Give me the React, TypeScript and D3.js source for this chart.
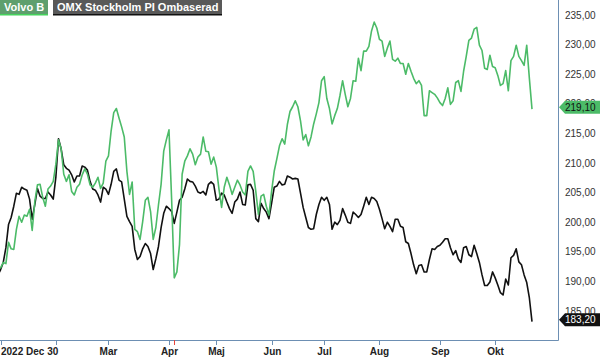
import React from "react";
import * as d3 from "d3";

// trading-day index 0 = 2022-12-30, last = 2023-10-20
const volvo = [
  192.3, 192.3, 193.2, 193.0, 196.6, 195.5, 195.4, 198.8, 201.0, 200.0,
  201.2, 201.0, 202.2, 198.6, 203.5, 206.3, 206.4, 204.2, 202.7, 205.6,
  206.1, 206.9, 209.8, 213.9, 212.4, 208.1, 206.9, 208.0, 205.2, 204.6,
  205.9, 206.4, 208.0, 209.0, 208.1, 206.3, 205.9, 206.6, 207.6, 205.7,
  206.6, 210.3, 211.2, 215.4, 218.5, 219.2, 217.6, 216.1, 214.4, 208.6,
  204.7, 206.8, 198.8, 198.4, 197.1, 200.1, 203.7, 204.2, 201.8, 197.1,
  199.1, 202.9, 206.4, 212.0, 213.9, 215.6, 203.9, 190.6, 191.6, 196.2,
  208.1, 210.3, 211.2, 212.4, 211.5, 209.7, 211.0, 211.5, 214.4, 212.0,
  211.9, 209.8, 211.0, 209.3, 205.6, 202.5, 205.9, 207.6, 206.3, 204.7,
  205.9, 207.1, 206.3, 205.1, 204.6, 208.6, 209.5, 208.6, 205.2, 201.3,
  204.4, 204.7, 202.7, 201.2, 205.2, 208.6, 210.7, 212.9, 214.1, 213.2,
  216.5, 218.7, 219.5, 220.5, 219.5, 217.1, 213.9, 214.8, 212.9, 214.4,
  216.6, 218.3, 220.2, 223.9, 224.6, 220.9, 219.2, 216.6, 218.0, 219.2,
  221.4, 223.9, 221.6, 219.5, 220.9, 223.9, 223.8, 227.7, 225.6, 228.9,
  228.9, 229.7, 232.3, 233.8, 232.8, 230.9, 230.6, 228.0, 229.4, 230.6,
  227.5, 227.2, 227.7, 226.8, 226.8, 225.0, 226.8, 225.5, 224.3, 223.4,
  223.9, 223.1, 218.0, 218.0, 222.2, 221.9, 221.6, 221.0, 220.2, 219.7,
  220.9, 222.7, 219.9, 220.5, 223.6, 223.9, 222.1, 225.5, 228.0, 230.7,
  231.1, 232.6, 232.9, 229.9, 229.0, 226.0, 225.8, 228.2, 226.3, 226.1,
  224.8, 223.1, 223.4, 225.6, 222.2, 227.3, 228.0, 229.9, 228.0, 227.3,
  226.5, 229.9, 224.3, 219.1,
];

const omx = [
  191.1, 192.0, 193.2, 195.7, 199.6, 200.8, 202.7, 204.9, 204.7, 205.9,
  205.6, 205.4, 203.9, 200.5, 203.0, 205.7, 204.4, 204.0, 204.0, 205.1,
  204.6, 203.9, 207.6, 214.1, 212.4, 209.7, 209.1, 208.8, 208.0, 206.8,
  207.8, 207.8, 209.5, 209.3, 208.8, 206.9, 205.6, 205.4, 204.6, 203.4,
  205.9, 205.6, 204.7, 206.4, 208.6, 209.0, 207.1, 206.8, 203.9, 201.0,
  200.1, 199.3, 195.4, 193.7, 194.2, 195.5, 196.4, 195.9, 194.7, 192.0,
  193.8, 195.9, 199.1, 201.5, 202.7, 202.3, 201.8, 199.8, 201.7, 203.7,
  204.2, 205.6, 207.3, 206.9, 206.8, 206.1, 205.1, 204.9, 205.2, 204.6,
  206.4, 206.8, 206.4, 203.7, 203.9, 204.9, 204.6, 203.4, 202.3, 201.5,
  203.4, 203.9, 205.1, 203.0, 202.9, 206.3, 206.4, 205.4, 200.6, 200.1,
  203.2, 202.3, 201.7, 200.6, 203.2, 205.9, 206.1, 206.9, 206.3, 206.4,
  207.8, 207.6, 207.3, 207.4, 207.3, 204.9, 202.5, 200.8, 199.1, 198.8,
  198.9, 201.3, 203.0, 204.2, 203.7, 204.2, 203.0, 198.8, 200.0, 199.6,
  200.3, 202.3, 201.2, 200.0, 199.8, 201.7, 201.3, 200.8, 201.3, 202.7,
  204.2, 203.0, 204.2, 204.0, 203.5, 202.2, 200.6, 198.9, 200.0, 199.3,
  198.4, 200.5, 200.5, 199.3, 199.1, 196.7, 196.4, 194.7, 192.8, 191.3,
  192.7, 192.8, 191.6, 191.6, 193.7, 195.5, 195.4, 195.9, 196.1, 196.6,
  197.2, 197.2, 195.7, 194.5, 195.2, 193.8, 193.2, 195.7, 195.9, 194.5,
  194.2, 196.1, 194.7, 193.2, 191.1, 189.3, 189.3, 189.9, 191.6, 190.6,
  189.4, 188.1, 187.7, 190.4, 189.4, 194.0, 194.4, 195.5, 193.3, 192.8,
  191.1, 189.8, 187.2, 183.2,
];

// month ticks as trading-day index
const tickIdx = [1, 22, 42, 65, 83, 104, 124, 145, 168, 189];
const tickLabels = ["2022 Dec 30", "", "Mar", "Apr", "Maj", "Jun", "Jul", "Aug", "Sep", "Okt"];
const dividendIdx = 67;

const seriesNames = ["Volvo B", "OMX Stockholm PI Ombaserad"];

const W = 600;
const H = 357;
const right = 558;
const bottom = 340;
const FONT = "Arial, 'Liberation Sans', sans-serif";
const GREEN = "#4cbb68";
const AXIS = "#6d8fb3";

const fmt = (v: number) => d3.format(".2f")(v).replace(".", ",");

export default function App() {
  const x = d3.scaleLinear().domain([0, volvo.length - 1]).range([-2, 532]);
  const y = d3.scaleLinear().domain([185, 235]).range([311, 15]);

  const line = d3
    .line<number>()
    .x((d, i) => x(i))
    .y((d) => y(d));

  const yTicks = y.ticks(10);
  const lastV = volvo[volvo.length - 1];
  const lastO = omx[omx.length - 1];

  const tag = (v: number, fill: string, color: string) => {
    const cy = y(v) - 2;
    const h = 13;
    const pts = [
      [right + 1, cy],
      [right + 7, cy - h / 2],
      [W, cy - h / 2],
      [W, cy + h / 2],
      [right + 7, cy + h / 2],
    ];
    return (
      <g>
        <polygon points={pts.map((p) => p.join(",")).join(" ")} fill={fill} />
        <text x={565} y={cy + 3.6} fontSize={10} fill={color} fontFamily={FONT}>
          {fmt(v)}
        </text>
      </g>
    );
  };

  return (
    <svg
      width={W}
      height={H}
      style={{ position: "absolute", left: 0, top: 0, display: "block", background: "#fff" }}
    >
      <defs>
        <clipPath id="plot">
          <rect x={0} y={0} width={right} height={bottom} />
        </clipPath>
      </defs>

      <g clipPath="url(#plot)" fill="none" strokeLinejoin="round">
        <path d={line(omx) || ""} stroke="#111" strokeWidth={1.6} />
        <path d={line(volvo) || ""} stroke={GREEN} strokeWidth={1.6} />
      </g>

      {/* frame */}
      <line x1={0} x2={right + 0.5} y1={bottom + 0.5} y2={bottom + 0.5} stroke={AXIS} />
      <line x1={right + 0.5} x2={right + 0.5} y1={0} y2={bottom + 0.5} stroke={AXIS} />

      {/* x axis */}
      {tickIdx.map((t, i) => {
        const tx = Math.round(x(t)) + 0.5;
        return (
          <g key={t}>
            <line x1={tx} x2={tx} y1={bottom} y2={bottom + 5} stroke={AXIS} />
            <text
              x={i === 0 ? 1 : tx}
              y={355}
              textAnchor={i === 0 ? "start" : "middle"}
              fontSize={10}
              fontWeight="bold"
              fill="#222"
              fontFamily={FONT}
            >
              {tickLabels[i]}
            </text>
          </g>
        );
      })}
      <line
        x1={Math.round(x(dividendIdx)) + 0.5}
        x2={Math.round(x(dividendIdx)) + 0.5}
        y1={bottom}
        y2={bottom + 5}
        stroke="#e8453c"
      />

      {/* y axis labels */}
      {yTicks.map((v) => (
        <text key={v} x={565} y={y(v) + 3.5} fontSize={10} fill="#333" fontFamily={FONT}>
          {fmt(v)}
        </text>
      ))}

      {tag(lastV, GREEN, "#111")}
      {tag(lastO, "#111", "#fff")}

      {/* legend */}
      <rect x={0} y={0} width={48} height={15} fill="#5e9f6d" />
      <rect x={0} y={14} width={48} height={1.5} fill="#45d35c" />
      <text x={4} y={11} fontSize={11} fontWeight="bold" fill="#fff" fontFamily={FONT}>
        {seriesNames[0]}
      </text>
      <rect x={53} y={0} width={169} height={15} fill="#595959" />
      <rect x={53} y={14} width={169} height={1.5} fill="#111" />
      <text x={57} y={11} fontSize={11} fontWeight="bold" fill="#fff" fontFamily={FONT}>
        {seriesNames[1]}
      </text>
    </svg>
  );
}
